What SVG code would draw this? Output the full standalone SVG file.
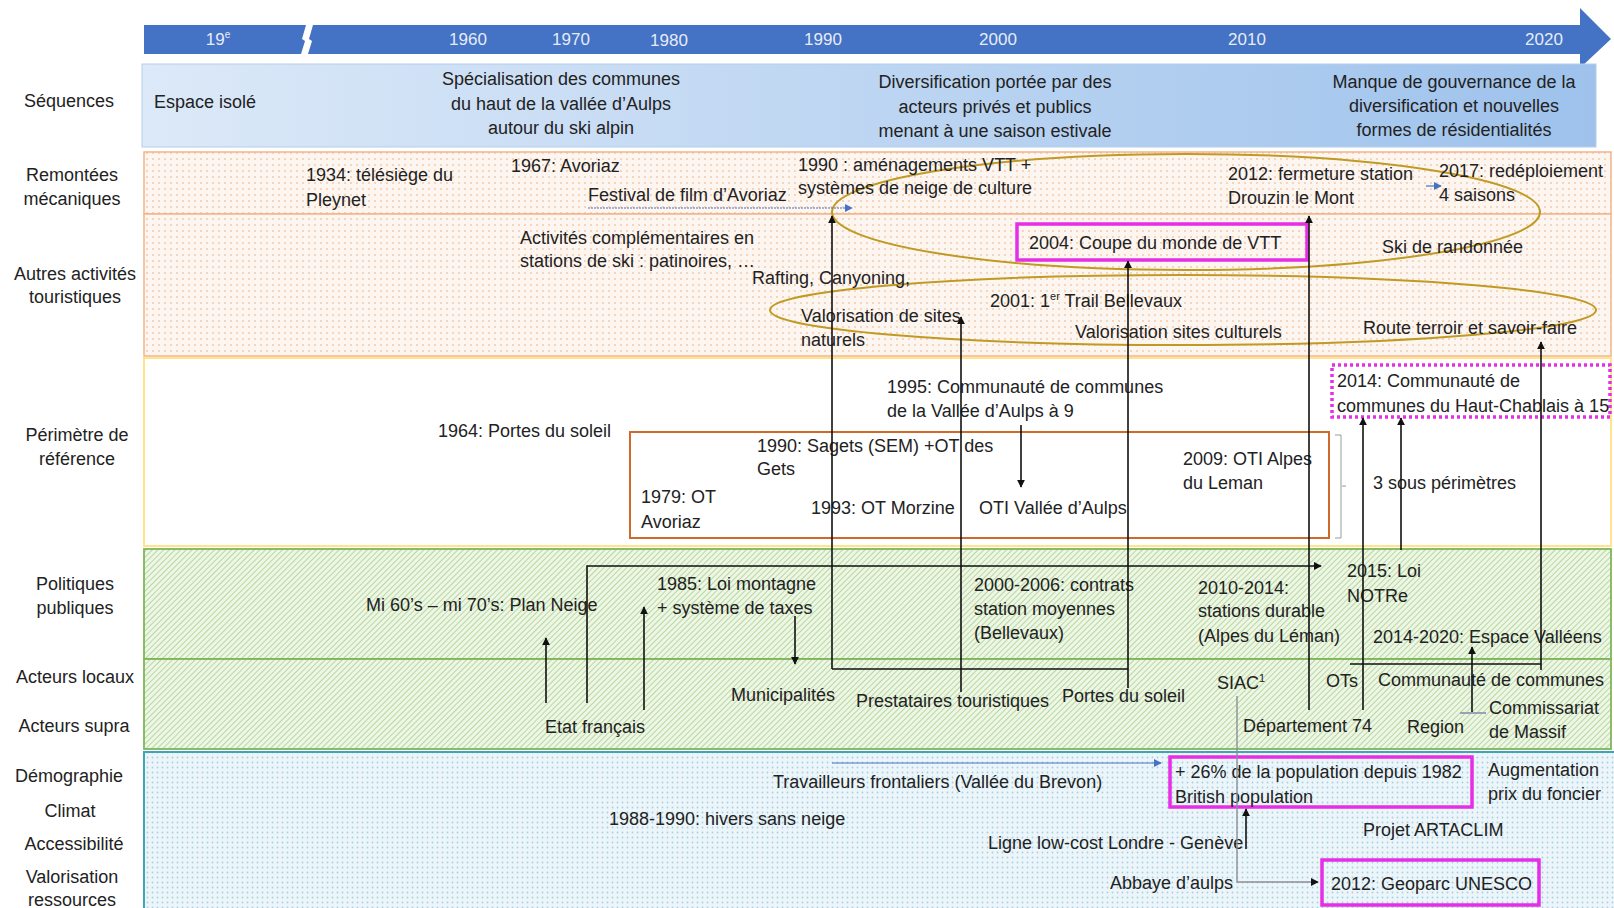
<svg xmlns="http://www.w3.org/2000/svg" width="1614" height="908" viewBox="0 0 1614 908">
<defs>
<style>
text{font-family:"Liberation Sans",Arial,sans-serif;font-size:18px;fill:#222}
.lab{text-anchor:middle}
.mid{text-anchor:middle}
.yr{fill:#e6ecf7;font-size:17px;text-anchor:middle}
.con{stroke:#111;stroke-width:1.6;fill:none}
.blue{stroke:#4472c4;stroke-width:1.2;fill:none}
.gray{stroke:#8a8f98;stroke-width:1.4;fill:none}
.mag{fill:none;stroke:#e62ee6;stroke-width:3.5}
.ell{fill:none;stroke:#c09a22;stroke-width:2}
</style>
<pattern id="pDots" width="6" height="6" patternUnits="userSpaceOnUse">
<rect width="6" height="6" fill="#fdf6f0"/><circle cx="3" cy="3" r="0.9" fill="#f1c6a6"/>
</pattern>
<pattern id="pStripe" width="4" height="4" patternUnits="userSpaceOnUse" patternTransform="rotate(45)">
<rect width="4" height="4" fill="#eef6e6"/><line x1="0" y1="0" x2="0" y2="4" stroke="#a9d18e" stroke-width="1.6"/>
</pattern>
<pattern id="pBlue" width="5" height="5" patternUnits="userSpaceOnUse">
<rect width="5" height="5" fill="#ecf6fa"/><circle cx="2.5" cy="2.5" r="0.9" fill="#a9cfe0"/>
</pattern>
<linearGradient id="gSeq" x1="0" y1="0" x2="1" y2="0">
<stop offset="0" stop-color="#dce9f8"/><stop offset="1" stop-color="#9ec2ec"/>
</linearGradient>
<marker id="aBlk" viewBox="0 0 10 10" refX="9" refY="5" markerWidth="8" markerHeight="8" orient="auto" markerUnits="userSpaceOnUse">
<path d="M0,0 L10,5 L0,10 z" fill="#111"/>
</marker>
<marker id="aBlu" viewBox="0 0 10 10" refX="9" refY="5" markerWidth="8" markerHeight="8" orient="auto" markerUnits="userSpaceOnUse">
<path d="M0,0 L10,5 L0,10 z" fill="#4472c4"/>
</marker>
</defs>
<rect width="1614" height="908" fill="#ffffff"/>

<!-- Timeline -->
<g id="timeline">
<polygon points="144,25 306,25 302,39 305,41 301,54 144,54" fill="#4472c4"/>
<polygon points="313,25 1580,25 1580,8 1611,39 1580,68 1580,54 308,54 312,41 309,39" fill="#4472c4"/>
<text class="yr" x="218" y="45">19<tspan font-size="10" dy="-7">e</tspan></text>
<text class="yr" x="468" y="45">1960</text>
<text class="yr" x="571" y="45">1970</text>
<text class="yr" x="669" y="46">1980</text>
<text class="yr" x="823" y="45">1990</text>
<text class="yr" x="998" y="45">2000</text>
<text class="yr" x="1247" y="45">2010</text>
<text class="yr" x="1544" y="45">2020</text>
</g>

<!-- Bands -->
<g id="bands">
<rect x="142" y="64" width="1454" height="83" fill="url(#gSeq)" stroke="#b4cdea" stroke-width="1"/>
<rect x="144" y="152" width="1467" height="62" fill="url(#pDots)" stroke="#f2b48a" stroke-width="1.5"/>
<rect x="144" y="214" width="1467" height="142" fill="url(#pDots)" stroke="#f2b48a" stroke-width="1.5"/>
<rect x="144" y="358" width="1467" height="188" fill="#ffffff" stroke="#ffe48a" stroke-width="2"/>
<rect x="144" y="549" width="1467" height="110" fill="url(#pStripe)" stroke="#7fb55a" stroke-width="1.8"/>
<rect x="144" y="659" width="1467" height="90" fill="url(#pStripe)" stroke="#7fb55a" stroke-width="1.8"/>
<rect x="144" y="752" width="1472" height="160" fill="url(#pBlue)" stroke="#3fa6b5" stroke-width="2"/>
</g>

<!-- Row labels -->
<g id="row-labels">
<text class="lab" x="69" y="107">Séquences</text>
<text class="lab" x="72" y="181">Remontées</text>
<text class="lab" x="72" y="205">mécaniques</text>
<text class="lab" x="75" y="280">Autres activités</text>
<text class="lab" x="75" y="303">touristiques</text>
<text class="lab" x="77" y="441">Périmètre de</text>
<text class="lab" x="77" y="465">référence</text>
<text class="lab" x="75" y="590">Politiques</text>
<text class="lab" x="75" y="614">publiques</text>
<text class="lab" x="75" y="683">Acteurs locaux</text>
<text class="lab" x="74" y="732">Acteurs supra</text>
<text class="lab" x="69" y="782">Démographie</text>
<text class="lab" x="70" y="817">Climat</text>
<text class="lab" x="74" y="850">Accessibilité</text>
<text class="lab" x="72" y="883">Valorisation</text>
<text class="lab" x="72" y="906">ressources</text>
</g>

<!-- Sequences -->
<g id="seq-espace"><text x="154" y="108">Espace isolé</text></g>
<g id="seq-specialisation">
<text class="mid" x="561" y="85">Spécialisation des communes</text>
<text class="mid" x="561" y="110">du haut de la vallée d’Aulps</text>
<text class="mid" x="561" y="134">autour du ski alpin</text>
</g>
<g id="seq-diversification">
<text class="mid" x="995" y="88">Diversification portée par des</text>
<text class="mid" x="995" y="113">acteurs privés et publics</text>
<text class="mid" x="995" y="137">menant à une saison estivale</text>
</g>
<g id="seq-gouvernance">
<text class="mid" x="1454" y="88">Manque de gouvernance de la</text>
<text class="mid" x="1454" y="112">diversification et nouvelles</text>
<text class="mid" x="1454" y="136">formes de résidentialités</text>
</g>

<!-- Ellipses -->
<g id="ellipse-hiver"><ellipse cx="1186" cy="212" rx="354" ry="58" class="ell"/></g>
<g id="ellipse-ete"><ellipse cx="1183" cy="310" rx="413" ry="35" class="ell"/></g>

<!-- Remontées -->
<g id="n-1934"><text x="306" y="181">1934: télésiège du</text><text x="306" y="206">Pleynet</text></g>
<g id="n-1967"><text x="511" y="172">1967: Avoriaz</text></g>
<g id="n-festival"><text x="588" y="201">Festival de film d’Avoriaz</text></g>
<g id="n-1990vtt"><text x="798" y="171">1990 : aménagements VTT +</text><text x="798" y="194">systèmes de neige de culture</text></g>
<g id="n-2012"><text x="1228" y="180">2012: fermeture station</text><text x="1228" y="204">Drouzin le Mont</text></g>
<g id="n-2017"><text x="1439" y="177">2017: redéploiement</text><text x="1439" y="201">4 saisons</text></g>

<!-- Autres activités -->
<g id="n-activites"><text x="520" y="244">Activités complémentaires en</text><text x="520" y="267">stations de ski : patinoires, …</text></g>
<g id="n-rafting"><text x="752" y="284">Rafting, Canyoning,</text></g>
<g id="n-2004"><rect x="1017" y="224" width="290" height="36" class="mag"/><text x="1029" y="249">2004: Coupe du monde de VTT</text></g>
<g id="n-skirando"><text x="1382" y="253">Ski de randonnée</text></g>
<g id="n-2001"><text x="990" y="307">2001: 1<tspan font-size="11" dy="-7">er</tspan><tspan dy="7"> Trail Bellevaux</tspan></text></g>
<g id="n-sitesnat"><text x="801" y="322">Valorisation de sites</text><text x="801" y="346">naturels</text></g>
<g id="n-sitescult"><text x="1075" y="338">Valorisation sites culturels</text></g>
<g id="n-route"><text x="1363" y="334">Route terroir et savoir-faire</text></g>

<!-- Périmètre -->
<g id="n-1964"><text x="438" y="437">1964: Portes du soleil</text></g>
<g id="n-otbox"><rect x="630" y="432" width="699" height="106" fill="none" stroke="#cf6b2a" stroke-width="2"/></g>
<g id="n-1990sagets"><text x="757" y="452">1990: Sagets (SEM) +OT des</text><text x="757" y="475">Gets</text></g>
<g id="n-1979"><text x="641" y="503">1979: OT</text><text x="641" y="528">Avoriaz</text></g>
<g id="n-1993"><text x="811" y="514">1993: OT Morzine</text></g>
<g id="n-otivallee"><text x="979" y="514">OTI Vallée d’Aulps</text></g>
<g id="n-1995"><text x="887" y="393">1995: Communauté de communes</text><text x="887" y="417">de la Vallée d’Aulps à 9</text></g>
<g id="n-2009"><text x="1183" y="465">2009: OTI Alpes</text><text x="1183" y="489">du Leman</text></g>
<g id="n-bracket"><path d="M1335,435 H1341 V538 H1335" fill="none" stroke="#9a9a9a" stroke-width="1"/><line x1="1342" y1="486" x2="1346" y2="486" stroke="#9a9a9a" stroke-width="1"/></g>
<g id="n-3sous"><text x="1373" y="489">3 sous périmètres</text></g>
<g id="n-2014cc"><rect x="1332" y="365" width="278" height="52" fill="none" stroke="#e62ee6" stroke-width="3.5" stroke-dasharray="3 3"/><text x="1337" y="387">2014: Communauté de</text><text x="1337" y="412">communes du Haut-Chablais à 15</text></g>

<!-- Politiques -->
<g id="n-planneige"><text x="366" y="611">Mi 60’s – mi 70’s: Plan Neige</text></g>
<g id="n-1985"><text x="657" y="590">1985: Loi montagne</text><text x="657" y="614">+ système de taxes</text></g>
<g id="n-2000"><text x="974" y="591">2000-2006: contrats</text><text x="974" y="615">station moyennes</text><text x="974" y="639">(Bellevaux)</text></g>
<g id="n-2010"><text x="1198" y="594">2010-2014:</text><text x="1198" y="617">stations durable</text><text x="1198" y="642">(Alpes du Léman)</text></g>
<g id="n-2015"><text x="1347" y="577">2015: Loi</text><text x="1347" y="602">NOTRe</text></g>
<g id="n-espace"><text x="1373" y="643">2014-2020: Espace Valléens</text></g>

<!-- Acteurs -->
<g id="n-municipalites"><text x="731" y="701">Municipalités</text></g>
<g id="n-prestataires"><text x="856" y="707">Prestataires touristiques</text></g>
<g id="n-portes"><text x="1062" y="702">Portes du soleil</text></g>
<g id="n-siac"><text x="1217" y="689">SIAC<tspan font-size="11" dy="-7">1</tspan></text></g>
<g id="n-ots"><text x="1326" y="687">OTs</text></g>
<g id="n-cc"><text x="1378" y="686">Communauté de communes</text></g>
<g id="n-etat"><text x="545" y="733">Etat français</text></g>
<g id="n-dep74"><text x="1243" y="732">Département 74</text></g>
<g id="n-region"><text x="1407" y="733">Region</text></g>
<g id="n-commissariat"><text x="1489" y="714">Commissariat</text><text x="1489" y="738">de Massif</text></g>

<!-- Démographie etc. -->
<g id="n-travailleurs"><text x="773" y="788">Travailleurs frontaliers (Vallée du Brevon)</text></g>
<g id="n-26pct"><rect x="1170" y="757" width="302" height="50" class="mag"/><text x="1175" y="778">+ 26% de la population depuis 1982</text><text x="1175" y="803">British population</text></g>
<g id="n-foncier"><text x="1488" y="776">Augmentation</text><text x="1488" y="800">prix du foncier</text></g>
<g id="n-hivers"><text x="609" y="825">1988-1990: hivers sans neige</text></g>
<g id="n-artaclim"><text x="1363" y="836">Projet ARTACLIM</text></g>
<g id="n-lowcost"><text x="988" y="849">Ligne low-cost Londre - Genève</text></g>
<g id="n-abbaye"><text x="1110" y="889">Abbaye d’aulps</text></g>
<g id="n-geoparc"><rect x="1322" y="860" width="217" height="45" class="mag"/><text x="1331" y="890">2012: Geoparc UNESCO</text></g>

<!-- Connectors -->
<g id="connectors">
<line class="blue" x1="588" y1="208" x2="852" y2="208" marker-end="url(#aBlu)" stroke-dasharray="2 1"/>
<line class="blue" x1="1426" y1="186" x2="1441" y2="186" marker-end="url(#aBlu)"/>
<line class="blue" x1="832" y1="763" x2="1161" y2="763" marker-end="url(#aBlu)"/>
<line class="con" x1="832" y1="669" x2="832" y2="216" marker-end="url(#aBlk)"/>
<line class="con" x1="832" y1="669" x2="1128" y2="669"/>
<line class="con" x1="961" y1="692" x2="961" y2="317" marker-end="url(#aBlk)"/>
<line class="con" x1="1128" y1="688" x2="1128" y2="261" marker-end="url(#aBlk)"/>
<line class="con" x1="1309" y1="710" x2="1309" y2="216" marker-end="url(#aBlk)"/>
<line class="con" x1="1363" y1="710" x2="1363" y2="418" marker-end="url(#aBlk)"/>
<line class="con" x1="1401" y1="550" x2="1401" y2="418" marker-end="url(#aBlk)"/>
<line class="con" x1="1350" y1="664" x2="1541" y2="664"/>
<line class="con" x1="1541" y1="670" x2="1541" y2="342" marker-end="url(#aBlk)"/>
<line class="con" x1="1472" y1="713" x2="1472" y2="647" marker-end="url(#aBlk)"/>
<line x1="1460" y1="713" x2="1486" y2="713" stroke="#9aa2b2" stroke-width="2"/>
<line class="con" x1="1021" y1="425" x2="1021" y2="487" marker-end="url(#aBlk)"/>
<line class="con" x1="546" y1="703" x2="546" y2="638" marker-end="url(#aBlk)"/>
<line class="con" x1="644" y1="710" x2="644" y2="607" marker-end="url(#aBlk)"/>
<polyline class="con" points="587,703 587,566 1321,566" marker-end="url(#aBlk)" stroke-width="1.2"/>
<line class="con" x1="795" y1="616" x2="795" y2="664" marker-end="url(#aBlk)"/>
<line class="con" x1="1246" y1="849" x2="1246" y2="809" marker-end="url(#aBlk)"/>
<polyline class="gray" points="1237,696 1237,882 1318,882" marker-end="url(#aBlk)"/>
</g>
</svg>
